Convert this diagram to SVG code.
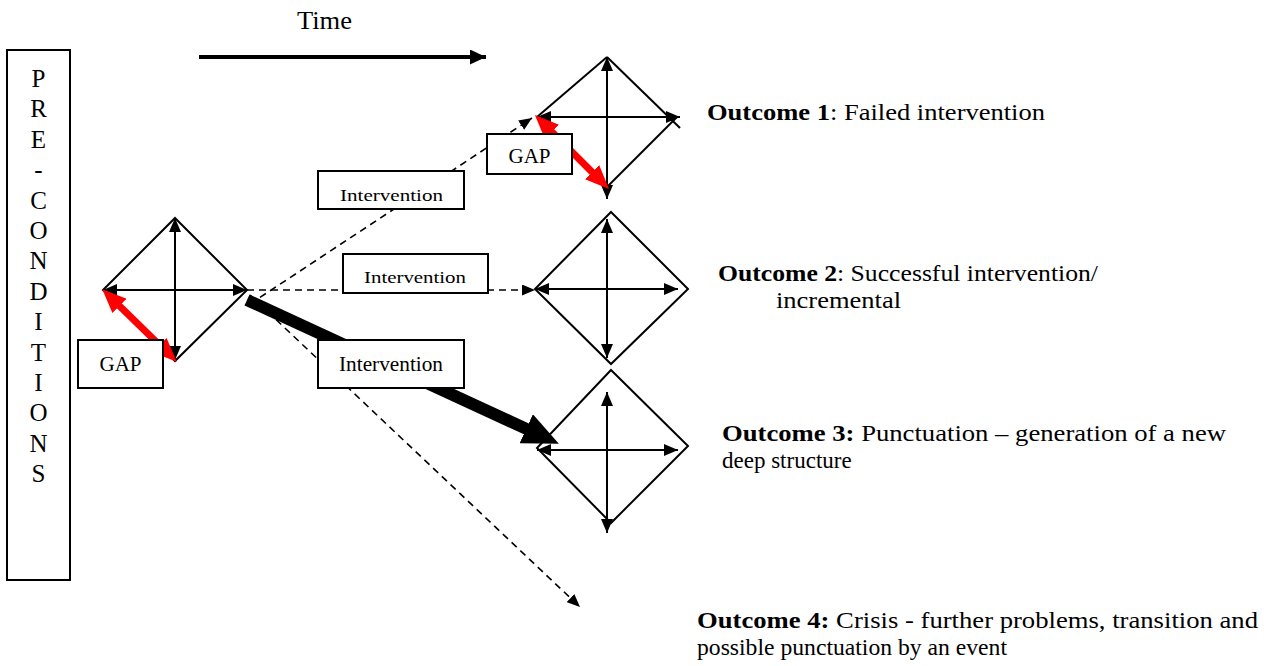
<svg xmlns="http://www.w3.org/2000/svg" width="1264" height="666" viewBox="0 0 1264 666">
  <style>
    .bg { fill: #ffffff; }
    .box { fill: #ffffff; stroke: #000000; stroke-width: 2; }
    .edge { fill: none; stroke: #000000; stroke-width: 2; }
    .axis { fill: none; stroke: #000000; stroke-width: 2; marker-start: url(#ax); marker-end: url(#ax); }
    .dash { fill: none; stroke: #000000; stroke-width: 1.6; stroke-dasharray: 7 5; marker-end: url(#dh); }
    .gap { fill: none; stroke: #ff0000; stroke-width: 7; marker-start: url(#rh); marker-end: url(#rh); }
    .thick { fill: none; stroke: #000000; stroke-width: 12; marker-end: url(#th); }
    .time { fill: none; stroke: #000000; stroke-width: 4; marker-end: url(#tm); }
    text { font-family: "Liberation Serif", "Times New Roman", serif; fill: #000000; }
    .lbl { font-size: 21px; }
    .sm { font-size: 17px; }
    .ttl { font-size: 25px; }
    .out { font-size: 23px; }
    .b { font-weight: bold; }
    .col { font-size: 25px; text-anchor: middle; }
  </style>
  <defs>
    <!-- axis arrowhead inside each diamond -->
    <marker id="ax" markerUnits="userSpaceOnUse" markerWidth="14" markerHeight="12" refX="14" refY="6" orient="auto-start-reverse">
      <path d="M0,0 L14,6 L0,12 z" fill="#000000"/>
    </marker>
    <!-- dashed intervention path head -->
    <marker id="dh" markerUnits="userSpaceOnUse" markerWidth="13" markerHeight="11" refX="13" refY="5.5" orient="auto">
      <path d="M0,0 L13,5.5 L0,11 z" fill="#000000"/>
    </marker>
    <!-- red gap arrowhead -->
    <marker id="rh" markerUnits="userSpaceOnUse" markerWidth="24" markerHeight="20" refX="2" refY="10" orient="auto-start-reverse">
      <path d="M0,0 L24,10 L0,20 z" fill="#ff0000"/>
    </marker>
    <!-- heavy punctuation arrowhead -->
    <marker id="th" markerUnits="userSpaceOnUse" markerWidth="36" markerHeight="32" refX="2" refY="16" orient="auto">
      <path d="M0,0 L36,16 L0,32 z" fill="#000000"/>
    </marker>
    <!-- time axis arrowhead -->
    <marker id="tm" markerUnits="userSpaceOnUse" markerWidth="16" markerHeight="15" refX="16" refY="7.5" orient="auto">
      <path d="M0,0 L16,7.5 L0,15 z" fill="#000000"/>
    </marker>
  </defs>

  <rect class="bg" x="0" y="0" width="1264" height="666"/>

  <!-- time axis -->
  <g id="time">
    <text class="ttl" x="297" y="29" textLength="55" lengthAdjust="spacingAndGlyphs">Time</text>
    <line class="time" x1="199" y1="57" x2="486" y2="57"/>
  </g>

  <!-- pre-conditions column -->
  <g id="preconditions">
    <rect class="box" x="7" y="50" width="63" height="530"/>
    <text class="col" x="38.5" y="87">P</text>
    <text class="col" x="38.5" y="117.4">R</text>
    <text class="col" x="38.5" y="147.8">E</text>
    <text class="col" x="38.5" y="178.2">-</text>
    <text class="col" x="38.5" y="208.6">C</text>
    <text class="col" x="38.5" y="239">O</text>
    <text class="col" x="38.5" y="269.4">N</text>
    <text class="col" x="38.5" y="299.8">D</text>
    <text class="col" x="38.5" y="330.2">I</text>
    <text class="col" x="38.5" y="360.6">T</text>
    <text class="col" x="38.5" y="391">I</text>
    <text class="col" x="38.5" y="421.4">O</text>
    <text class="col" x="38.5" y="451.8">N</text>
    <text class="col" x="38.5" y="482.2">S</text>
  </g>

  <!-- current deep structure -->
  <g id="structure-start">
    <path class="edge" d="M175,218 L247,290 L175,361 L103,290 Z"/>
    <line class="axis" x1="175" y1="218" x2="175" y2="360"/>
    <line class="axis" x1="103" y1="290" x2="247" y2="290"/>
  </g>

  <!-- outcome 1 structure -->
  <g id="structure-1">
    <line class="edge" x1="607" y1="57" x2="537" y2="117"/>
    <line class="edge" x1="537" y1="117" x2="607" y2="187"/>
    <line class="edge" x1="607" y1="57" x2="680" y2="128"/>
    <line class="edge" x1="607" y1="187" x2="677" y2="117"/>
    <line class="axis" x1="607" y1="57" x2="607" y2="199"/>
    <line class="axis" x1="537" y1="117" x2="680" y2="117"/>
  </g>

  <!-- outcome 2 structure -->
  <g id="structure-2">
    <path class="edge" d="M611,212 L688,289 L611,364 L535,289 Z"/>
    <line class="axis" x1="607" y1="219" x2="607" y2="358"/>
    <line class="axis" x1="535" y1="289" x2="678" y2="289"/>
  </g>

  <!-- outcome 3 structure -->
  <g id="structure-3">
    <path class="edge" d="M611,370 L688,446 L611,523 L537,448 Z"/>
    <line class="axis" x1="607" y1="392" x2="607" y2="533"/>
    <line class="axis" x1="537" y1="450" x2="678" y2="450"/>
  </g>

  <!-- connectors -->
  <g id="connectors">
    <line class="dash" x1="250" y1="304" x2="532" y2="118"/>
    <line class="dash" x1="247" y1="290" x2="535" y2="290"/>
    <line class="dash" x1="250" y1="295" x2="580" y2="607"/>
    <line class="thick" x1="247" y1="300" x2="528" y2="429.6"/>
    <line class="gap" x1="118" y1="304.5" x2="161" y2="346.5"/>
    <line class="gap" x1="550.5" y1="130.5" x2="593.5" y2="173.5"/>
  </g>

  <!-- label boxes -->
  <g id="gap-start">
    <rect class="box" x="78" y="340" width="85" height="48"/>
    <text class="lbl" x="120.5" y="371" text-anchor="middle">GAP</text>
  </g>
  <g id="gap-1">
    <rect class="box" x="487" y="134" width="85" height="40"/>
    <text class="lbl" x="529.5" y="163" text-anchor="middle">GAP</text>
  </g>
  <g id="intervention-1">
    <rect class="box" x="318" y="171" width="146" height="38"/>
    <text class="sm" x="340" y="201" textLength="103" lengthAdjust="spacingAndGlyphs">Intervention</text>
  </g>
  <g id="intervention-2">
    <rect class="box" x="343" y="254" width="145" height="39"/>
    <text class="sm" x="364" y="283" textLength="102" lengthAdjust="spacingAndGlyphs">Intervention</text>
  </g>
  <g id="intervention-3">
    <rect class="box" x="318" y="340" width="146" height="48"/>
    <text class="lbl" x="339" y="371" textLength="104" lengthAdjust="spacingAndGlyphs">Intervention</text>
  </g>

  <!-- outcome descriptions -->
  <g id="outcome-1">
    <text class="out" x="707" y="120" textLength="338" lengthAdjust="spacingAndGlyphs"><tspan class="b">Outcome 1</tspan>: Failed intervention</text>
  </g>
  <g id="outcome-2">
    <text class="out" x="718" y="281" textLength="380" lengthAdjust="spacingAndGlyphs"><tspan class="b">Outcome 2</tspan>: Successful intervention/</text>
    <text class="out" x="776" y="308" textLength="125" lengthAdjust="spacingAndGlyphs">incremental</text>
  </g>
  <g id="outcome-3">
    <text class="out" x="722" y="441" textLength="504" lengthAdjust="spacingAndGlyphs"><tspan class="b">Outcome 3:</tspan> Punctuation – generation of a new</text>
    <text class="out" x="722" y="468">deep structure</text>
  </g>
  <g id="outcome-4">
    <text class="out" x="697" y="628" textLength="561" lengthAdjust="spacingAndGlyphs"><tspan class="b">Outcome 4:</tspan> Crisis - further problems, transition and</text>
    <text class="out" x="697" y="655" textLength="310" lengthAdjust="spacingAndGlyphs">possible punctuation by an event</text>
  </g>
</svg>
